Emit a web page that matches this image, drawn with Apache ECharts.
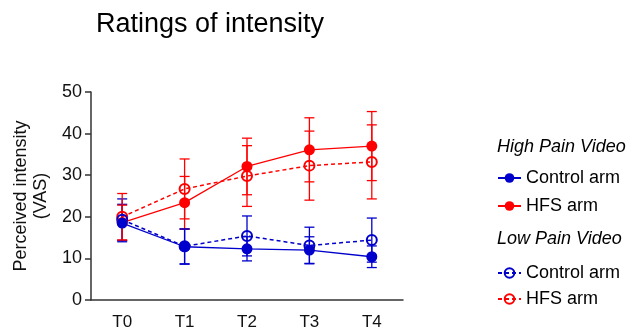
<!DOCTYPE html>
<html lang="en" style="height: 100%">

<head>
  <meta charset="utf-8" />
</head>

<body style="height: 100%; margin: 0">
  <div id="container" style="width: 628px; height: 333px"></div>

  <script type="text/javascript" src="https://fastly.jsdelivr.net/npm/echarts@6/dist/echarts.min.js"></script>

  <script type="text/javascript">
    // time points
    var timepoints = ["T0", "T1", "T2", "T3", "T4"];
    var yTicks = [0, 10, 20, 30, 40, 50];

    // high pain video (filled markers, solid line)
    var highControlMean = [18.5, 12.8, 12.3, 12.0, 10.4];
    var highControlErr = [4.5, 4.2, 2.9, 3.2, 2.6];
    var highHfsMean = [18.6, 23.4, 32.1, 36.1, 37.0];
    var highHfsErr = [4.2, 6.3, 6.8, 7.7, 8.3];

    // low pain video (open markers, dashed line)
    var lowControlMean = [19.3, 12.9, 15.4, 13.1, 14.4];
    var lowControlErr = [5.0, 4.2, 4.8, 4.4, 5.3];
    var lowHfsMean = [20.0, 26.7, 29.8, 32.3, 33.2];
    var lowHfsErr = [5.6, 7.2, 7.3, 8.3, 8.9];

    var BLUE = "#0000cc";
    var RED = "#ff0000";
    var FONT = "Liberation Sans, Arial, sans-serif";

    var legendNames = {
      highControl: "Control arm",
      highHfs: "HFS arm",
      lowControl: "Control arm",
      lowHfs: "HFS arm",
    };

    function errorData(mean, err) {
      return mean.map(function (m, i) {
        return [i, m - err[i], m + err[i]];
      });
    }

    function renderErrorBar(params, api) {
      var x = api.value(0);
      var lo = api.coord([x, api.value(1)]);
      var hi = api.coord([x, api.value(2)]);
      var half = 5;
      var style = { stroke: api.visual("color"), lineWidth: 1.3 };
      return {
        type: "group",
        children: [
          { type: "line", shape: { x1: hi[0], y1: hi[1], x2: lo[0], y2: lo[1] }, style: style },
          { type: "line", shape: { x1: hi[0] - half, y1: hi[1], x2: hi[0] + half, y2: hi[1] }, style: style },
          { type: "line", shape: { x1: lo[0] - half, y1: lo[1], x2: lo[0] + half, y2: lo[1] }, style: style },
        ],
      };
    }

    function errorSeries(mean, err, color) {
      return {
        type: "custom",
        renderItem: renderErrorBar,
        itemStyle: { color: color },
        encode: { x: 0, y: [1, 2] },
        data: errorData(mean, err),
        z: 1,
        silent: true,
      };
    }

    function lineSeries(name, mean, color, open) {
      return {
        name: name,
        type: "line",
        data: mean,
        symbol: "circle",
        symbolSize: open ? 10 : 11,
        showSymbol: true,
        z: 3,
        lineStyle: {
          color: color,
          width: open ? 1.5 : 1.3,
          type: open ? [4, 3] : "solid",
        },
        itemStyle: open
          ? { color: "rgba(255,255,255,0)", borderColor: color, borderWidth: 2 }
          : { color: color, borderWidth: 0 },
        emphasis: { disabled: true },
      };
    }

    var dom = document.getElementById("container");
    var myChart = echarts.init(dom, null, { renderer: "canvas" });

    var legendText = { fontSize: 18, color: "#000", fontFamily: FONT, lineHeight: 20 };
    var headingText = { fontSize: 18, fontStyle: "italic", fontWeight: "normal", color: "#000", fontFamily: FONT };

    var option = {
      animation: false,
      title: [
        {
          text: "Ratings of intensity",
          left: 91,
          top: 6,
          textStyle: { fontSize: 27, fontWeight: "normal", color: "#000", fontFamily: FONT },
        },
        { text: "High Pain Video", left: 492, top: 133, textStyle: headingText },
        { text: "Low Pain Video", left: 492, top: 225, textStyle: headingText },
      ],
      legend: [
        {
          data: ["highControl", "highHfs"],
          orient: "vertical",
          left: 492,
          top: 163,
          itemGap: 8,
          itemWidth: 23,
          itemHeight: 12,
          selectedMode: false,
          formatter: function (n) { return legendNames[n]; },
          textStyle: legendText,
        },
        {
          data: ["lowControl", "lowHfs"],
          orient: "vertical",
          left: 492,
          top: 258,
          itemGap: 6,
          itemWidth: 23,
          itemHeight: 12,
          selectedMode: false,
          formatter: function (n) { return legendNames[n]; },
          textStyle: legendText,
        },
      ],
      grid: {
        left: 91,
        right: 225,
        top: 92,
        bottom: 33,
        outerBoundsMode: "none",
      },
      xAxis: {
        type: "category",
        data: timepoints,
        boundaryGap: true,
        axisLine: { lineStyle: { color: "#333", width: 1.5 } },
        axisTick: { alignWithLabel: true, length: 6, lineStyle: { color: "#333", width: 1.5 } },
        axisLabel: { fontSize: 17, color: "#111", margin: 14, fontFamily: FONT },
      },
      yAxis: {
        type: "value",
        min: yTicks[0],
        max: yTicks[yTicks.length - 1],
        interval: 10,
        name: "Perceived intensity\n(VAS)",
        nameLocation: "middle",
        nameGap: 40,
        nameTextStyle: { fontSize: 18, color: "#111", fontFamily: FONT, lineHeight: 20 },
        axisLine: { show: true, lineStyle: { color: "#333", width: 1.5 } },
        axisTick: { show: true, length: 6, lineStyle: { color: "#333", width: 1.5 } },
        axisLabel: { fontSize: 18, color: "#111", margin: 9, fontFamily: FONT },
        splitLine: { show: false },
      },
      series: [
        errorSeries(highControlMean, highControlErr, BLUE),
        errorSeries(highHfsMean, highHfsErr, RED),
        errorSeries(lowControlMean, lowControlErr, BLUE),
        errorSeries(lowHfsMean, lowHfsErr, RED),
        lineSeries("lowHfs", lowHfsMean, RED, true),
        lineSeries("lowControl", lowControlMean, BLUE, true),
        lineSeries("highHfs", highHfsMean, RED, false),
        lineSeries("highControl", highControlMean, BLUE, false),
      ],
    };

    myChart.setOption(option);
    window.addEventListener("resize", myChart.resize);
  </script>
</body>

</html>
